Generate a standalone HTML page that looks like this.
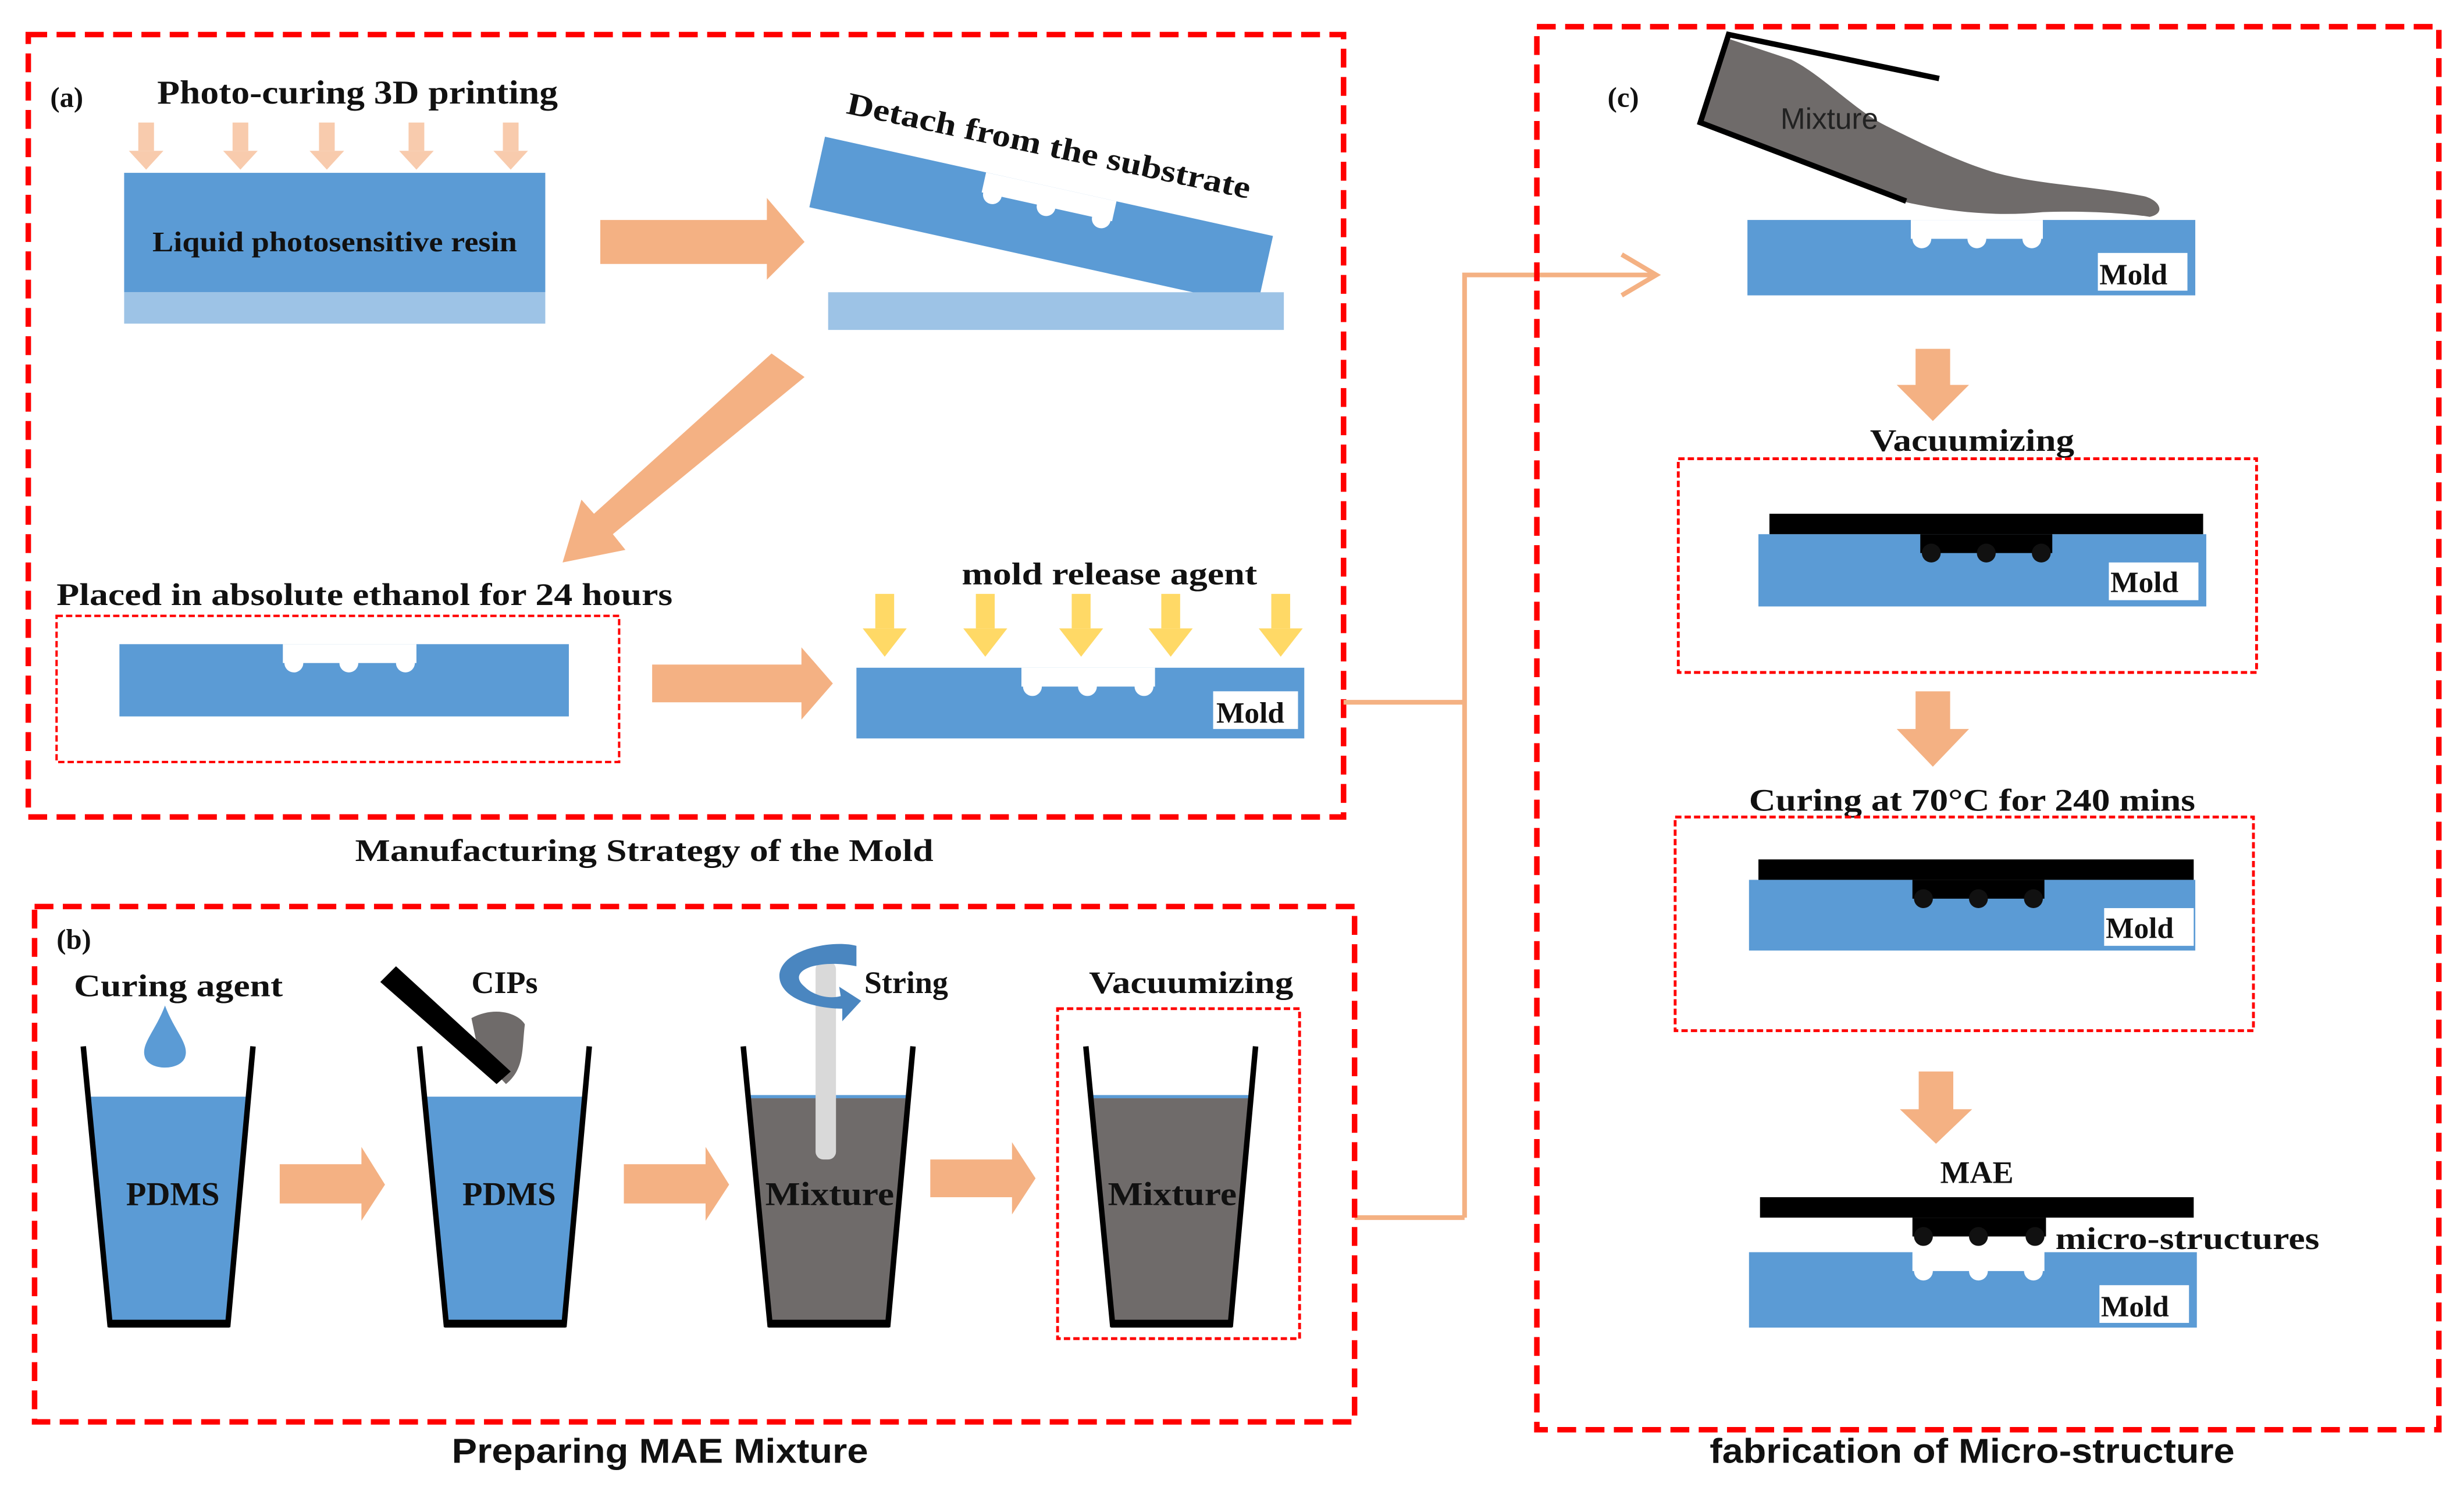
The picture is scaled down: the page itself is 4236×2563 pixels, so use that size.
<!DOCTYPE html>
<html><head><meta charset="utf-8"><style>html,body{margin:0;padding:0;background:#fff}svg{display:block}</style></head>
<body>
<svg width="4236" height="2563" viewBox="0 0 1568 949" preserveAspectRatio="none" xmlns="http://www.w3.org/2000/svg">
<rect width="1568" height="949" fill="#fff"/>
<g font-family="Liberation Serif, serif" font-weight="bold" fill="#111">

<!-- (a) -->
<rect x="18" y="22" width="837" height="498" fill="none" stroke="#f00" stroke-width="3.5" stroke-dasharray="12,6"/>
<text x="32" y="68" font-size="18">(a)</text>
<text x="100" y="66" font-size="21" textLength="255" lengthAdjust="spacingAndGlyphs">Photo-curing 3D printing</text>
<g fill="#f8cbad">
 <g id="la"><rect x="88" y="78" width="10" height="18"/><polygon points="82,96 104,96 93,108"/></g>
 <use href="#la" x="60"/><use href="#la" x="115"/><use href="#la" x="172"/><use href="#la" x="232"/>
</g>
<rect x="79" y="110" width="268" height="76" fill="#5b9bd5"/>
<rect x="79" y="186" width="268" height="20" fill="#9dc3e6"/>
<text x="213" y="160" font-size="18" text-anchor="middle" textLength="232" lengthAdjust="spacingAndGlyphs">Liquid photosensitive resin</text>
<polygon points="382,140 488,140 488,126 512,154 488,178 488,168 382,168" fill="#f4b183"/>
<!-- detach -->
<text x="538" y="72" font-size="20" transform="rotate(12 538 72)" textLength="262" lengthAdjust="spacingAndGlyphs">Detach from the substrate</text>
<g transform="rotate(12.5 525 87)">
 <rect x="525" y="87" width="292" height="46" fill="#5b9bd5"/>
 <rect x="630" y="87" width="85" height="13" fill="#fff"/>
 <circle cx="637" cy="100" r="6" fill="#fff"/><circle cx="672" cy="100" r="6" fill="#fff"/><circle cx="708" cy="100" r="6" fill="#fff"/>
</g>
<rect x="527" y="186" width="290" height="24" fill="#9dc3e6"/>
<polygon points="491,225 512,240 390,340 398,350 358,358 370,318 378,327" fill="#f4b183"/>
<text x="36" y="385" font-size="20" textLength="392" lengthAdjust="spacingAndGlyphs">Placed in absolute ethanol for 24 hours</text>
<rect x="36" y="392" width="358" height="93" fill="none" stroke="#f00" stroke-width="1.5" stroke-dasharray="4,2"/>
<rect x="76" y="410" width="286" height="46" fill="#5b9bd5"/>
<rect x="180" y="410" width="85" height="12" fill="#fff"/>
<circle cx="187" cy="422" r="6" fill="#fff"/><circle cx="222" cy="422" r="6" fill="#fff"/><circle cx="258" cy="422" r="6" fill="#fff"/>
<polygon points="415,423 510,423 510,412 530,435 510,458 510,447 415,447" fill="#f4b183"/>
<text x="612" y="372" font-size="20" textLength="188" lengthAdjust="spacingAndGlyphs">mold release agent</text>
<g fill="#ffd966">
 <g id="ya"><rect x="557" y="378" width="12" height="22"/><polygon points="549,400 577,400 563,418"/></g>
 <use href="#ya" x="64"/><use href="#ya" x="125"/><use href="#ya" x="182"/><use href="#ya" x="252"/>
</g>
<rect x="545" y="425" width="285" height="45" fill="#5b9bd5"/>
<rect x="650" y="425" width="85" height="12" fill="#fff"/>
<circle cx="657" cy="437" r="6" fill="#fff"/><circle cx="692" cy="437" r="6" fill="#fff"/><circle cx="728" cy="437" r="6" fill="#fff"/>
<rect x="772" y="440" width="54" height="24" fill="#fff"/>
<text x="774" y="460" font-size="19">Mold</text>
<text x="410" y="548" font-size="20" text-anchor="middle" textLength="368" lengthAdjust="spacingAndGlyphs">Manufacturing Strategy of the Mold</text>

<!-- connectors -->
<g stroke="#f4b183" stroke-width="3" fill="none">
 <polyline points="855,447 932,447"/>
 <polyline points="862,775 932,775"/>
 <polyline points="932,775 932,175 1052,175"/>
 <polyline points="1032,162 1054,175 1032,188"/>
</g>

<!-- (b) -->
<rect x="22" y="577" width="840" height="328" fill="none" stroke="#f00" stroke-width="3.5" stroke-dasharray="12,6"/>
<text x="36" y="604" font-size="18">(b)</text>
<text x="47" y="634" font-size="20" textLength="133" lengthAdjust="spacingAndGlyphs">Curing agent</text>
<path d="M105,640 C111,656 120,664 118,672 C116,682 94,682 92,672 C90,664 99,656 105,640Z" fill="#5b9bd5"/>
<g id="c1">
 <polygon points="55,698 159,698 145,843 70,843" fill="#5b9bd5"/>
 <polyline points="53,666 70,843 145,843 161,666" fill="none" stroke="#000" stroke-width="3.5"/>
 <rect x="69" y="840" width="77" height="5" fill="#000"/>
</g>
<text x="110" y="767" font-size="21" text-anchor="middle">PDMS</text>
<use href="#c1" x="214"/>
<text x="324" y="767" font-size="21" text-anchor="middle">PDMS</text>
<text x="300" y="632" font-size="20">CIPs</text>
<path d="M300,648 C315,640 330,645 334,652 C332,668 334,680 322,690 L305,672 Z" fill="#6f6b6a"/>
<polygon points="242,625 252,615 325,682 316,690" fill="#000"/>
<g id="c3">
 <polygon points="475,698 579,698 565,843 490,843" fill="#6f6b6a"/>
 <line x1="475" y1="698" x2="579" y2="698" stroke="#5b9bd5" stroke-width="2"/>
 <polyline points="473,666 490,843 565,843 581,666" fill="none" stroke="#000" stroke-width="3.5"/>
 <rect x="489" y="840" width="77" height="5" fill="#000"/>
</g>
<rect x="519" y="612" width="13" height="126" rx="5" fill="#d9d9d9"/>
<path d="M545,602 L545,615 C520,610 500,618 512,628 C518,634 528,636 535,634 L534,628 L548,637 L536,650 L536,642 C520,642 495,636 496,620 C498,604 530,598 545,602Z" fill="#4a86c0"/>
<text x="550" y="632" font-size="20">String</text>
<text x="528" y="767" font-size="21" text-anchor="middle" textLength="82" lengthAdjust="spacingAndGlyphs">Mixture</text>
<use href="#c3" x="218"/>
<text x="746" y="767" font-size="21" text-anchor="middle" textLength="82" lengthAdjust="spacingAndGlyphs">Mixture</text>
<text x="693" y="632" font-size="20" textLength="130" lengthAdjust="spacingAndGlyphs">Vacuumizing</text>
<rect x="673" y="642" width="154" height="210" fill="none" stroke="#f00" stroke-width="1.8" stroke-dasharray="4,2"/>
<g fill="#f4b183">
 <polygon points="178,741 230,741 230,730 245,754 230,777 230,766 178,766"/>
 <polygon points="397,741 449,741 449,730 464,754 449,777 449,766 397,766"/>
 <polygon points="592,738 644,738 644,727 659,750 644,773 644,762 592,762"/>
</g>
<text x="420" y="931" font-size="22" font-family="Liberation Sans, sans-serif" text-anchor="middle" textLength="265" lengthAdjust="spacingAndGlyphs">Preparing MAE Mixture</text>

<!-- (c) -->
<rect x="978" y="17" width="574" height="893" fill="none" stroke="#f00" stroke-width="3.5" stroke-dasharray="12,6"/>
<text x="1023" y="68" font-size="18">(c)</text>
<path d="M1098,24 L1082,78 L1210,128 C1240,135 1270,138 1300,135 C1330,134 1355,136 1368,138 C1378,136 1375,128 1365,125 C1330,118 1300,118 1270,110 C1250,104 1230,95 1200,80 C1180,70 1160,48 1140,38 Z" fill="#6f6b6a"/>
<polyline points="1234,50 1100,22 1082,78 1213,128" fill="none" stroke="#000" stroke-width="3.5"/>
<text x="1133" y="82" font-size="19" font-weight="normal" font-family="Liberation Sans, sans-serif" fill="#222">Mixture</text>
<g id="m1">
 <rect x="1112" y="140" width="285" height="48" fill="#5b9bd5"/>
 <rect x="1216" y="140" width="84" height="12" fill="#fff"/>
 <circle cx="1223" cy="152" r="6" fill="#fff"/><circle cx="1258" cy="152" r="6" fill="#fff"/><circle cx="1293" cy="152" r="6" fill="#fff"/>
 <rect x="1335" y="161" width="57" height="24" fill="#fff"/>
 <text x="1336" y="181" font-size="19">Mold</text>
</g>
<g fill="#f4b183">
 <polygon points="1219,222 1241,222 1241,245 1253,245 1230,268 1207,245 1219,245"/>
 <polygon points="1219,440 1241,440 1241,464 1253,464 1230,488 1207,464 1219,464"/>
 <polygon points="1221,682 1243,682 1243,706 1255,706 1232,728 1209,706 1221,706"/>
</g>
<text x="1255" y="287" font-size="20" text-anchor="middle" textLength="130" lengthAdjust="spacingAndGlyphs">Vacuumizing</text>
<rect x="1068" y="292" width="368" height="136" fill="none" stroke="#f00" stroke-width="1.8" stroke-dasharray="4,2"/>
<rect x="1119" y="340" width="285" height="46" fill="#5b9bd5"/>
<rect x="1126" y="327" width="276" height="13" fill="#000"/>
<rect x="1222" y="340" width="84" height="12" fill="#000"/>
<circle cx="1229" cy="352" r="6"/><circle cx="1264" cy="352" r="6"/><circle cx="1299" cy="352" r="6"/>
<rect x="1342" y="358" width="57" height="24" fill="#fff"/>
<text x="1343" y="377" font-size="19">Mold</text>
<text x="1255" y="516" font-size="20" text-anchor="middle" textLength="284" lengthAdjust="spacingAndGlyphs">Curing at 70°C for 240 mins</text>
<rect x="1066" y="520" width="368" height="136" fill="none" stroke="#f00" stroke-width="1.8" stroke-dasharray="4,2"/>
<rect x="1113" y="560" width="284" height="45" fill="#5b9bd5"/>
<rect x="1119" y="547" width="277" height="13" fill="#000"/>
<rect x="1217" y="560" width="84" height="12" fill="#000"/>
<circle cx="1224" cy="572" r="6"/><circle cx="1259" cy="572" r="6"/><circle cx="1294" cy="572" r="6"/>
<rect x="1339" y="578" width="57" height="24" fill="#fff"/>
<text x="1340" y="597" font-size="19">Mold</text>
<text x="1258" y="753" font-size="20" text-anchor="middle">MAE</text>
<rect x="1120" y="762" width="276" height="13" fill="#000"/>
<rect x="1217" y="775" width="85" height="12" fill="#000"/>
<circle cx="1224" cy="787" r="6"/><circle cx="1259" cy="787" r="6"/><circle cx="1295" cy="787" r="6"/>
<text x="1308" y="795" font-size="20" textLength="168" lengthAdjust="spacingAndGlyphs">micro-structures</text>
<use href="#m1" x="1" y="657"/>
<text x="1255" y="931" font-size="22" font-family="Liberation Sans, sans-serif" text-anchor="middle" textLength="334" lengthAdjust="spacingAndGlyphs">fabrication of Micro-structure</text>
</g>
</svg>
</body></html>
